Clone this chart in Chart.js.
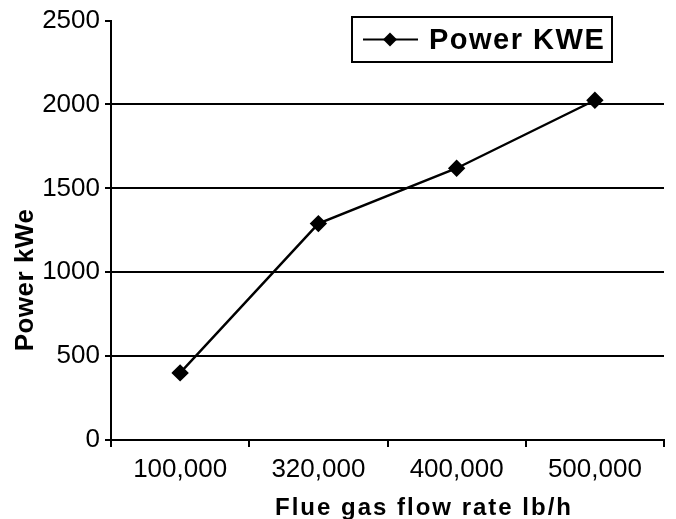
<!DOCTYPE html>
<html>
<head>
<meta charset="utf-8">
<script src="https://cdn.jsdelivr.net/npm/chart.js@4.4.1/dist/chart.umd.min.js"></script>
<style>
html,body{margin:0;padding:0;background:#fff;}
#wrap{position:relative;width:676px;height:519px;}
</style>
</head>
<body>
<div id="wrap"><canvas id="c"></canvas></div>
<script>
const categories = ["100,000", "320,000", "400,000", "500,000"];
const powerKWE = [400, 1290, 1620, 2025];
const seriesLabel = "Power KWE";
const xTitle = "Flue gas flow rate lb/h";
const yTitle = "Power kWe";
const yTicks = [0, 500, 1000, 1500, 2000, 2500];

const FONT = "'Liberation Sans', Arial, Helvetica, sans-serif";

const decor = {
  id: 'decor',
  afterDraw(chart) {
    const ctx = chart.ctx;
    ctx.save();
    // Legend box
    const x0 = 352, y0 = 17, w = 260, h = 45;
    ctx.fillStyle = '#fff';
    ctx.fillRect(x0, y0, w, h);
    ctx.strokeStyle = '#000';
    ctx.lineWidth = 2;
    ctx.strokeRect(x0, y0, w, h);
    const cy = y0 + h / 2;
    ctx.beginPath();
    ctx.moveTo(x0 + 11, cy);
    ctx.lineTo(x0 + 66, cy);
    ctx.stroke();
    const cx = x0 + 38, r = 7;
    ctx.beginPath();
    ctx.moveTo(cx, cy - r); ctx.lineTo(cx + r, cy); ctx.lineTo(cx, cy + r); ctx.lineTo(cx - r, cy); ctx.closePath();
    ctx.fillStyle = '#000';
    ctx.fill();
    ctx.font = "bold 29px " + FONT;
    ctx.letterSpacing = '1.5px';
    ctx.textBaseline = 'alphabetic';
    ctx.textAlign = 'left';
    ctx.fillText(chart.data.datasets[0].label, x0 + 77, 49);
    // X title
    ctx.font = "bold 24px " + FONT;
    ctx.letterSpacing = '2px';
    ctx.textAlign = 'center';
    ctx.fillText(xTitle, 424, 515);
    // Y title
    ctx.translate(33, 280);
    ctx.rotate(-Math.PI / 2);
    ctx.font = "bold 26px " + FONT;
    ctx.letterSpacing = '0.5px';
    ctx.textAlign = 'center';
    ctx.fillText(yTitle, 0, 0);
    ctx.restore();
  }
};

new Chart(document.getElementById('c'), {
  type: 'line',
  data: {
    labels: categories,
    datasets: [{
      label: seriesLabel,
      data: powerKWE,
      borderColor: '#000',
      backgroundColor: '#000',
      borderWidth: 2.4,
      pointStyle: 'rectRot',
      pointRadius: 7,
      pointHoverRadius: 7,
      tension: 0,
      fill: false
    }]
  },
  options: {
    responsive: true,
    maintainAspectRatio: false,
    animation: false,
    devicePixelRatio: 1,
    layout: { padding: { top: 18, right: 12, left: 0, bottom: 0 } },
    plugins: { legend: { display: false }, tooltip: { enabled: false } },
    scales: {
      x: {
        type: 'category',
        offset: true,
        grid: { offset: true, drawOnChartArea: false, color: '#000', lineWidth: 2, tickLength: 7, tickWidth: 2 },
        border: { display: true, color: '#000', width: 2 },
        ticks: { color: '#000', font: { family: FONT, size: 26 }, padding: 7, maxRotation: 0, autoSkip: false },
        afterFit(s) { s.height = 79; }
      },
      y: {
        min: 0, max: 2500,
        afterBuildTicks(s) { s.ticks = yTicks.map(v => ({ value: v })); },
        grid: {
          color: ctx => (ctx.tick && ctx.tick.value === 2500) ? 'rgba(0,0,0,0)' : '#000',
          lineWidth: 2, tickLength: 6, tickWidth: 2, tickColor: '#000'
        },
        border: { display: true, color: '#000', width: 2 },
        ticks: { color: '#000', font: { family: FONT, size: 26 }, padding: 5, callback: v => String(v) },
        afterFit(s) { s.width = 111; }
      }
    }
  },
  plugins: [decor]
});
</script>
</body>
</html>
